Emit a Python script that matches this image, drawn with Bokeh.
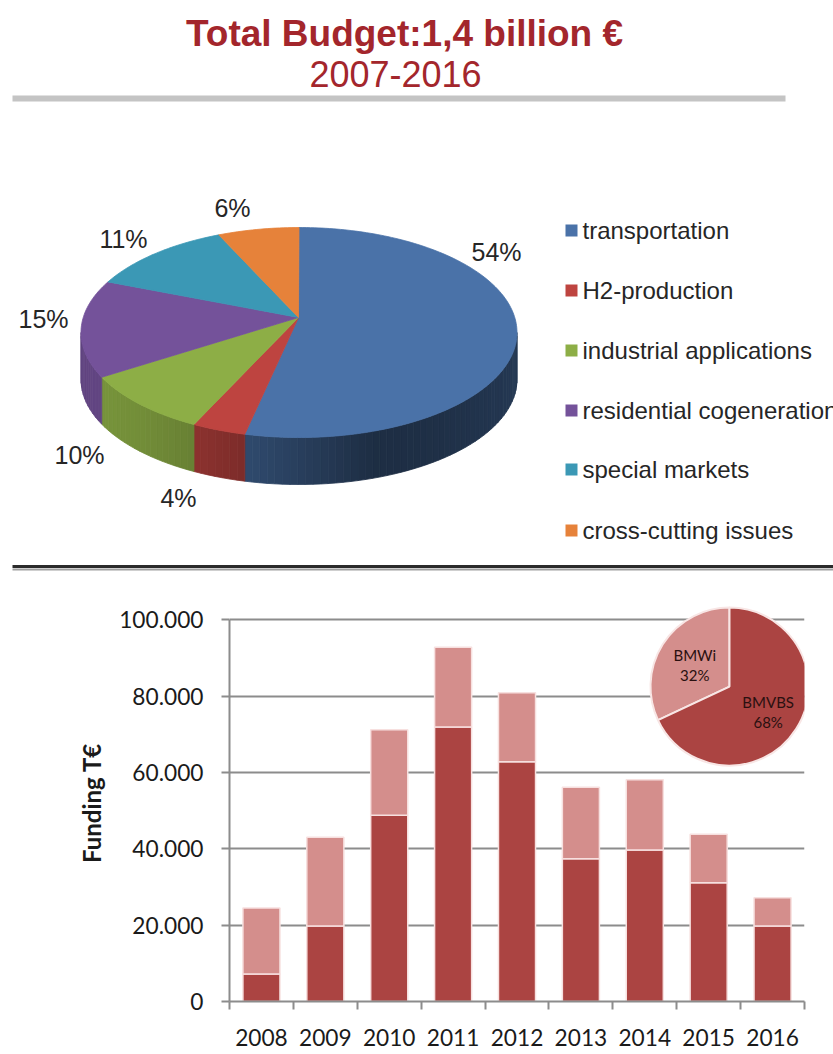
import math
from bokeh.plotting import figure
from bokeh.models import Range1d, FixedTicker
from bokeh.layouts import column
from bokeh.embed import file_html
from bokeh.resources import INLINE
from bokeh.core.properties import value

# ---------------- data ----------------
title_main = "Total Budget:1,4 billion €"
title_sub = "2007-2016"

pie_labels = ["transportation", "H2-production", "industrial applications",
              "residential cogeneration", "special markets", "cross-cutting issues"]
pie_shares = [54, 4, 10, 15, 11, 6]

years = ["2008", "2009", "2010", "2011", "2012", "2013", "2014", "2015", "2016"]
bmvbs = [7200, 19800, 48800, 71900, 62800, 37400, 39700, 31100, 19800]
bmwi = [17300, 23200, 22400, 20900, 18100, 18700, 18400, 12700, 7400]
y_ticks = [0, 20000, 40000, 60000, 80000, 100000]

split_labels = ["BMWi", "BMVBS"]
split_shares = [32, 68]

# ---------------- styles ----------------
W = 833
TOP_H = 575
BAR_H = 1054 - TOP_H
TITLE_RED = "#A3262C"
PIE_COLORS = ["#4A72A8", "#BE4440", "#8DAE46", "#74529A", "#3B98B5", "#E6823A"]
DARK = "#AB4442"
LIGHT = "#D48E8C"
GRID = "#8C8C8C"
SANS = value("Liberation Sans")
CAL = value("Lato")


def shade(hexc, f):
    r, g, b = int(hexc[1:3], 16), int(hexc[3:5], 16), int(hexc[5:7], 16)
    return "#%02x%02x%02x" % (min(255, int(r * f)), min(255, int(g * f)), min(255, int(b * f)))


# ---------------- top figure ----------------
top = figure(width=W, height=TOP_H, x_range=Range1d(0, W), y_range=Range1d(TOP_H, 0),
             output_backend="svg", toolbar_location=None, min_border=0,
             x_axis_type=None, y_axis_type=None)
top.grid.visible = False
top.outline_line_color = None
top.frame_align = False

top.text(x=[404], y=[33], text=[title_main], text_font=SANS, text_font_style="bold",
         text_font_size="37px", text_color=TITLE_RED, text_align="center",
         text_baseline="alphabetic")
top.text(x=[395], y=[73], text=[title_sub], text_font=SANS,
         text_font_size="36px", text_color=TITLE_RED, text_align="center",
         text_baseline="alphabetic")
top.quad(left=[12], right=[785], top=[95], bottom=[101], fill_color="#C4C4C4", line_color=None)

# 3D pie
cx3, cy3, ax3, by3, depth = 298.5, 332.0, 218.0, 105.0, 47.0
apex = (298.0, 317.0)


def rim(t):
    r = math.radians(t)
    return cx3 + ax3 * math.cos(r), cy3 - by3 * math.sin(r)


def side_factor(t):
    return (0.40 + 0.45 * max(0.0, math.cos(math.radians(t + 160)))
            + 0.10 * max(0.0, math.cos(math.radians(t))) ** 3)


side_xs, side_ys, side_cols = [], [], []
top_xs, top_ys = [], []
cum = 0.0
for s, col in zip(pie_shares, PIE_COLORS):
    t_start = 90 - 360 * cum / 100.0
    t_end = t_start - 360 * s / 100.0
    cum += s
    n = max(4, int((t_start - t_end) / 1.0))
    pts = [rim(t_start - (t_start - t_end) * k / n) for k in range(n + 1)]
    top_xs.append([apex[0]] + [p[0] for p in pts])
    top_ys.append([apex[1]] + [p[1] for p in pts])
    lo, hi = max(t_end, -180.0), min(t_start, 0.0)
    if lo < hi:
        m = max(1, int((hi - lo) / 2.0))
        for k in range(m):
            t1 = hi - (hi - lo) * k / m
            t2 = hi - (hi - lo) * (k + 1) / m
            p1, p2 = rim(t1), rim(t2)
            side_xs.append([p1[0], p2[0], p2[0], p1[0]])
            side_ys.append([p1[1], p2[1], p2[1] + depth, p1[1] + depth])
            side_cols.append(shade(col, side_factor((t1 + t2) / 2)))

top.patches(xs=side_xs, ys=side_ys, fill_color=side_cols, line_color=side_cols, line_width=0.8)
top.patches(xs=top_xs, ys=top_ys, fill_color=PIE_COLORS, line_color=PIE_COLORS, line_width=0.8)

pie_label_pos = [(496, 251), (178, 497), (79, 454), (43, 318), (123, 238), (232, 207)]
top.text(x=[p[0] for p in pie_label_pos], y=[p[1] for p in pie_label_pos],
         text=[f"{s}%" for s in pie_shares], text_font=SANS, text_font_size="25px",
         text_color="#262626", text_align="center", text_baseline="middle")

# legend
leg_y = [230, 290, 350, 410, 469, 530]
top.rect(x=[571] * len(pie_labels), y=leg_y, width=12, height=12,
         fill_color=PIE_COLORS, line_color=None)
top.text(x=[582] * len(pie_labels), y=leg_y, text=pie_labels, text_font=SANS,
         text_font_size="24px", text_color="#262626", text_align="left", text_baseline="middle")

# separator
top.segment(x0=[12], y0=[569], x1=[W], y1=[569], line_color="#A0A0A0", line_width=2)
top.segment(x0=[12], y0=[566], x1=[W], y1=[566], line_color="#2B2B2B", line_width=3)

# ---------------- bar figure ----------------
bar = figure(width=W, height=BAR_H, x_range=Range1d(0.5, len(years) + 0.5),
             y_range=Range1d(0, 104000), output_backend="svg", toolbar_location=None,
             min_border_left=229, min_border_right=29, min_border_top=29, min_border_bottom=53)
bar.frame_align = False
bar.outline_line_color = None
bar.xgrid.visible = False
bar.ygrid.ticker = FixedTicker(ticks=y_ticks[1:])
bar.ygrid.grid_line_color = GRID
bar.ygrid.grid_line_width = 2

xs = [i + 1 for i in range(len(years))]
totals = [a + b for a, b in zip(bmvbs, bmwi)]
bar.vbar(x=xs, bottom=0, top=bmvbs, width=0.58, fill_color=DARK,
         line_color="#F7E0DF", line_width=1.5)
bar.vbar(x=xs, bottom=bmvbs, top=totals, width=0.58, fill_color=LIGHT,
         line_color="#F7E0DF", line_width=1.5)

ya = bar.yaxis[0]
ya.ticker = FixedTicker(ticks=y_ticks)
ya.bounds = (0, 100000)
ya.major_label_overrides = {v: f"{v:,}".replace(",", ".") for v in y_ticks}
ya.axis_line_color = GRID
ya.axis_line_width = 2
ya.major_tick_out = 8
ya.major_tick_in = 0
ya.minor_tick_out = 0
ya.minor_tick_in = 0
ya.major_tick_line_color = GRID
ya.major_tick_line_width = 2
ya.major_label_text_font = "Lato"
ya.major_label_text_font_size = "22.7px"
ya.major_label_text_color = "#1A1A1A"
ya.major_label_standoff = 18
ya.axis_label = "Funding T€"
ya.axis_label_text_font = "Lato"
ya.axis_label_text_font_style = "bold"
ya.axis_label_text_font_size = "24px"
ya.axis_label_text_color = "#1A1A1A"
ya.axis_label_standoff = 10

xa = bar.xaxis[0]
xa.ticker = FixedTicker(ticks=xs, minor_ticks=[0.5 + i for i in range(len(years) + 1)])
xa.major_label_overrides = {x: y for x, y in zip(xs, years)}
xa.axis_line_color = GRID
xa.axis_line_width = 2
xa.major_tick_out = 0
xa.major_tick_in = 0
xa.minor_tick_out = 8
xa.minor_tick_in = 0
xa.minor_tick_line_color = GRID
xa.minor_tick_line_width = 2
xa.major_label_text_font = "Lato"
xa.major_label_text_font_size = "22.7px"
xa.major_label_text_color = "#1A1A1A"
xa.major_label_standoff = 19

# inset pie
pcx, pcy, pr = 8.326, 82500, 79
starts, ends = [], []
acc = 0.0
for s in split_shares:
    a0 = math.pi / 2 + 2 * math.pi * acc / 100.0
    acc += s
    a1 = math.pi / 2 + 2 * math.pi * acc / 100.0
    starts.append(a0)
    ends.append(a1)
bar.wedge(x=[pcx] * 2, y=[pcy] * 2, radius=pr, radius_units="screen",
          start_angle=starts, end_angle=ends, fill_color=[LIGHT, DARK],
          line_color="#F8E6E5", line_width=2)
for lab, s, a0, a1 in zip(split_labels, split_shares, starts, ends):
    mid = (a0 + a1) / 2
    dx = 0.55 * pr * math.cos(mid)
    dy = -0.55 * pr * math.sin(mid)
    bar.text(x=[pcx, pcx], y=[pcy, pcy], text=[lab, f"{s}%"],
             x_offset=[dx + 2, dx + 2], y_offset=[dy - 8, dy + 12], text_font=CAL,
             text_font_size="15px", text_color="#2A1010", text_align="center",
             text_baseline="middle")

layout = column(top, bar)
open("out.html", "w").write(file_html(layout, INLINE))
